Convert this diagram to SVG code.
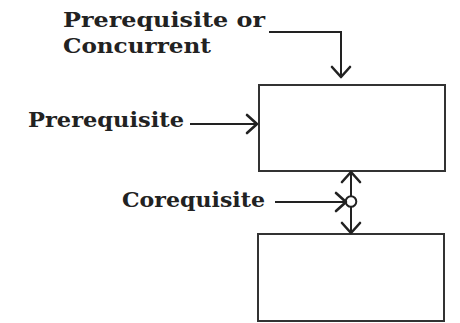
<svg xmlns="http://www.w3.org/2000/svg" width="460" height="323" viewBox="0 0 460 323">
<style>
.lbl{font-family:"DejaVu Serif","Liberation Serif",serif;font-weight:bold;font-size:21px;fill:#222}
.box{fill:#fff;stroke:#333;stroke-width:2}
.ln{fill:none;stroke:#222;stroke-width:2}
.hd{fill:none;stroke:#222;stroke-width:2.6;stroke-linecap:round;stroke-linejoin:round}
</style>
<rect width="460" height="323" fill="#fff"/>
<g id="node-top"><rect class="box" x="259" y="85" width="186" height="86"/></g>
<g id="node-bottom"><rect class="box" x="258" y="234" width="186" height="87"/></g>
<g id="labels">
<text class="lbl" x="63" y="27" textLength="202" lengthAdjust="spacingAndGlyphs">Prerequisite  or</text>
<text class="lbl" x="63" y="53" textLength="148" lengthAdjust="spacingAndGlyphs">Concurrent</text>
<text class="lbl" x="28" y="127" textLength="156" lengthAdjust="spacingAndGlyphs">Prerequisite</text>
<text class="lbl" x="122" y="207" textLength="143" lengthAdjust="spacingAndGlyphs">Corequisite</text>
</g>
<g id="connectors">
<polyline class="ln" points="269,32 341,32 341,76"/>
<polyline class="hd" points="332,67 341,77 350,67"/>
<line class="ln" x1="190" y1="124" x2="257" y2="124"/>
<polyline class="hd" points="247,115 257,124 247,133"/>
<line class="ln" x1="351" y1="172" x2="351" y2="196"/>
<line class="ln" x1="351" y1="207" x2="351" y2="233"/>
<polyline class="hd" points="342,182 351,172 360,182"/>
<polyline class="hd" points="342,223 351,233 360,223"/>
<circle cx="351" cy="201.5" r="5.3" fill="none" stroke="#222" stroke-width="2"/>
<line class="ln" x1="275" y1="202" x2="345" y2="202"/>
<polyline class="hd" points="336,193 346,202 336,211"/>
</g>
</svg>
